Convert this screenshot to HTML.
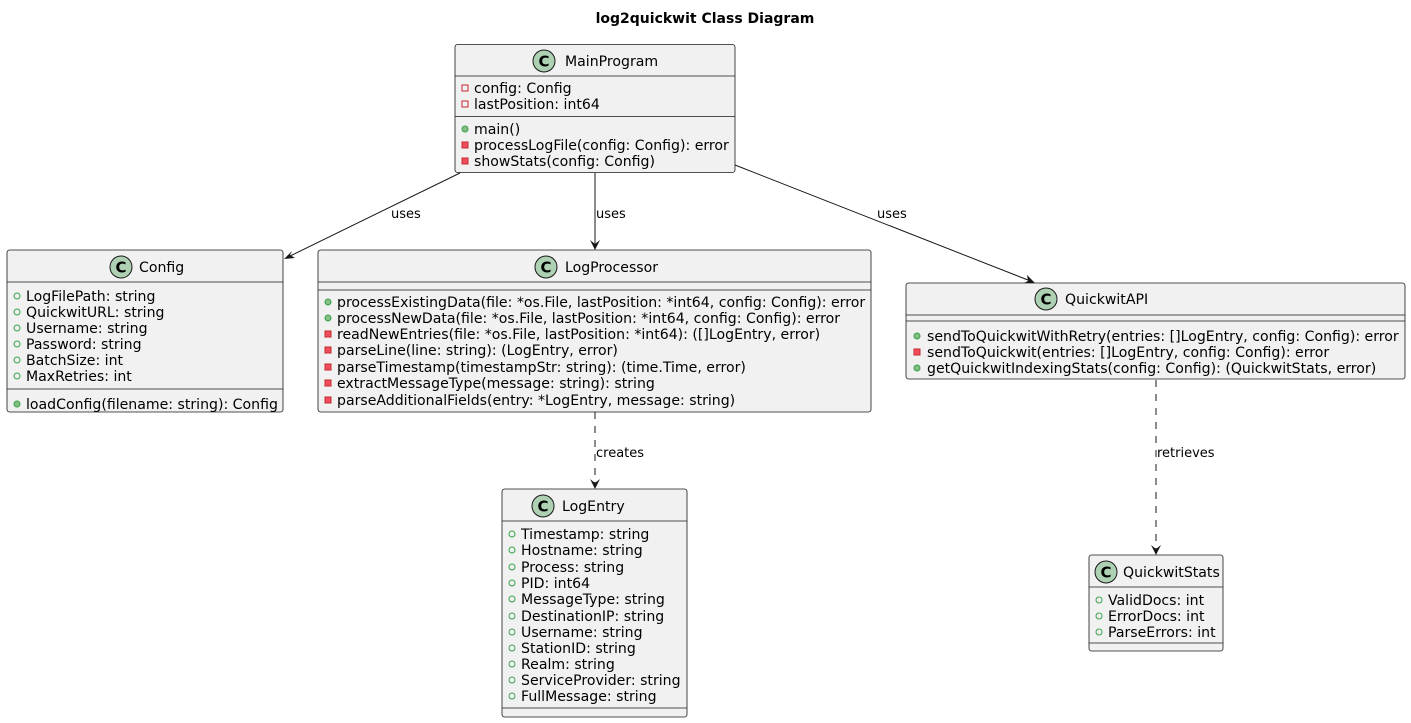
<!DOCTYPE html>
<html><head><meta charset="utf-8"><style>
html,body{margin:0;padding:0;background:#fff;}
svg{display:block;}
text{font-family:"DejaVu Sans","Liberation Sans",sans-serif;font-size:14.1px;fill:#000;}
.t{font-size:14px;font-weight:bold;}
.l{font-size:13px;}
.b{fill:#F1F1F1;stroke:#181818;stroke-width:0.8;}
.s{stroke:#181818;stroke-width:0.8;}
.pc{fill:none;stroke:#38A34A;stroke-width:1;}
.pf{fill:#84BE84;stroke:#38A34A;stroke-width:1;}
.qc{fill:none;stroke:#C82930;stroke-width:1;}
.qf{fill:#F24D5C;stroke:#C82930;stroke-width:1;}
.ic{fill:#ADD1B2;stroke:#181818;stroke-width:1;}
.ct{font-weight:bold;font-size:15px;}
.a{stroke:#181818;stroke-width:1;fill:none;}
.d{stroke:#181818;stroke-width:1;fill:none;stroke-dasharray:7,7;}
.h{fill:#181818;}
</style></head><body>
<svg width="1411" height="723" viewBox="0 0 1411 723" xmlns="http://www.w3.org/2000/svg">
<text class="t" x="705" y="23" text-anchor="middle">log2quickwit Class Diagram</text>

<rect class="b" x="455" y="44.5" width="280" height="128" rx="2.5"/>
<line class="s" x1="455" y1="76" x2="735" y2="76"/>
<line class="s" x1="455" y1="116.5" x2="735" y2="116.5"/>
<circle class="ic" cx="544" cy="61" r="11"/><text class="ct" x="544" y="66.5" text-anchor="middle">C</text>
<text x="565" y="66">MainProgram</text>
<rect class="qc" x="462" y="85" width="6" height="6"/><text x="474" y="93">config: Config</text>
<rect class="qc" x="462" y="101" width="6" height="6"/><text x="474" y="109">lastPosition: int64</text>
<circle class="pf" cx="465" cy="129" r="3"/><text x="474" y="134">main()</text>
<rect class="qf" x="462" y="142" width="6" height="6"/><text x="474" y="150">processLogFile(config: Config): error</text>
<rect class="qf" x="462" y="158" width="6" height="6"/><text x="474" y="166">showStats(config: Config)</text>

<rect class="b" x="7" y="250" width="276" height="162" rx="2.5"/>
<line class="s" x1="7" y1="282" x2="283" y2="282"/>
<line class="s" x1="7" y1="389" x2="283" y2="389"/>
<circle class="ic" cx="121" cy="267" r="11"/><text class="ct" x="121" y="272.5" text-anchor="middle">C</text>
<text x="139" y="272">Config</text>
<circle class="pc" cx="17" cy="296" r="3"/><text x="26" y="301">LogFilePath: string</text>
<circle class="pc" cx="17" cy="312" r="3"/><text x="26" y="317">QuickwitURL: string</text>
<circle class="pc" cx="17" cy="328" r="3"/><text x="26" y="333">Username: string</text>
<circle class="pc" cx="17" cy="344" r="3"/><text x="26" y="349">Password: string</text>
<circle class="pc" cx="17" cy="360" r="3"/><text x="26" y="365">BatchSize: int</text>
<circle class="pc" cx="17" cy="376" r="3"/><text x="26" y="381">MaxRetries: int</text>
<circle class="pf" cx="17" cy="404" r="3"/><text x="26" y="409">loadConfig(filename: string): Config</text>

<rect class="b" x="318" y="250" width="553" height="162" rx="2.5"/>
<line class="s" x1="318" y1="282" x2="871" y2="282"/>
<line class="s" x1="318" y1="290" x2="871" y2="290"/>
<circle class="ic" cx="546" cy="267" r="11"/><text class="ct" x="546" y="272.5" text-anchor="middle">C</text>
<text x="565" y="272">LogProcessor</text>
<circle class="pf" cx="328" cy="302" r="3"/><text x="337" y="307">processExistingData(file: *os.File, lastPosition: *int64, config: Config): error</text>
<circle class="pf" cx="328" cy="318" r="3"/><text x="337" y="323">processNewData(file: *os.File, lastPosition: *int64, config: Config): error</text>
<rect class="qf" x="325" y="331" width="6" height="6"/><text x="337" y="339">readNewEntries(file: *os.File, lastPosition: *int64): ([]LogEntry, error)</text>
<rect class="qf" x="325" y="347" width="6" height="6"/><text x="337" y="355">parseLine(line: string): (LogEntry, error)</text>
<rect class="qf" x="325" y="364" width="6" height="6"/><text x="337" y="372">parseTimestamp(timestampStr: string): (time.Time, error)</text>
<rect class="qf" x="325" y="380" width="6" height="6"/><text x="337" y="388">extractMessageType(message: string): string</text>
<rect class="qf" x="325" y="397" width="6" height="6"/><text x="337" y="405">parseAdditionalFields(entry: *LogEntry, message: string)</text>

<rect class="b" x="906" y="283" width="499" height="96" rx="2.5"/>
<line class="s" x1="906" y1="315" x2="1405" y2="315"/>
<line class="s" x1="906" y1="321" x2="1405" y2="321"/>
<circle class="ic" cx="1046" cy="299" r="11"/><text class="ct" x="1046" y="304.5" text-anchor="middle">C</text>
<text x="1065" y="304">QuickwitAPI</text>
<circle class="pf" cx="917" cy="336" r="3"/><text x="927" y="341">sendToQuickwitWithRetry(entries: []LogEntry, config: Config): error</text>
<rect class="qf" x="914" y="349" width="6" height="6"/><text x="927" y="357">sendToQuickwit(entries: []LogEntry, config: Config): error</text>
<circle class="pf" cx="917" cy="368" r="3"/><text x="927" y="373">getQuickwitIndexingStats(config: Config): (QuickwitStats, error)</text>

<rect class="b" x="502" y="489" width="185" height="228" rx="2.5"/>
<line class="s" x1="502" y1="521" x2="687" y2="521"/>
<line class="s" x1="502" y1="708" x2="687" y2="708"/>
<circle class="ic" cx="543" cy="506" r="11"/><text class="ct" x="543" y="511.5" text-anchor="middle">C</text>
<text x="562" y="511">LogEntry</text>
<circle class="pc" cx="512" cy="534" r="3"/><text x="521" y="539">Timestamp: string</text>
<circle class="pc" cx="512" cy="550" r="3"/><text x="521" y="555">Hostname: string</text>
<circle class="pc" cx="512" cy="567" r="3"/><text x="521" y="572">Process: string</text>
<circle class="pc" cx="512" cy="583" r="3"/><text x="521" y="588">PID: int64</text>
<circle class="pc" cx="512" cy="599" r="3"/><text x="521" y="604">MessageType: string</text>
<circle class="pc" cx="512" cy="616" r="3"/><text x="521" y="621">DestinationIP: string</text>
<circle class="pc" cx="512" cy="632" r="3"/><text x="521" y="637">Username: string</text>
<circle class="pc" cx="512" cy="648" r="3"/><text x="521" y="653">StationID: string</text>
<circle class="pc" cx="512" cy="664" r="3"/><text x="521" y="669">Realm: string</text>
<circle class="pc" cx="512" cy="680" r="3"/><text x="521" y="685">ServiceProvider: string</text>
<circle class="pc" cx="512" cy="696" r="3"/><text x="521" y="701">FullMessage: string</text>

<rect class="b" x="1089" y="555" width="134" height="96" rx="2.5"/>
<line class="s" x1="1089" y1="587" x2="1223" y2="587"/>
<line class="s" x1="1089" y1="643" x2="1223" y2="643"/>
<circle class="ic" cx="1106" cy="572" r="11"/><text class="ct" x="1106" y="577.5" text-anchor="middle">C</text>
<text x="1123" y="577">QuickwitStats</text>
<circle class="pc" cx="1099" cy="600" r="3"/><text x="1108" y="605">ValidDocs: int</text>
<circle class="pc" cx="1099" cy="616" r="3"/><text x="1108" y="621">ErrorDocs: int</text>
<circle class="pc" cx="1099" cy="632" r="3"/><text x="1108" y="637">ParseErrors: int</text>

<line class="a" x1="460" y1="173" x2="286" y2="258"/>
<polygon class="h" points="284,259 292,251 290,255 295,258"/>
<text class="l" x="391" y="218">uses</text>

<line class="a" x1="595" y1="173" x2="595" y2="248"/>
<polygon class="h" points="595,250 590,240 595,244 600,240"/>
<text class="l" x="596" y="218">uses</text>

<line class="a" x1="735" y1="165" x2="1033" y2="282"/>
<polygon class="h" points="1035,283 1024,283 1028,281 1027,275"/>
<text class="l" x="877" y="218">uses</text>

<line class="d" x1="595" y1="412" x2="595" y2="487"/>
<polygon class="h" points="595,489 590,479 595,483 600,479"/>
<text class="l" x="596" y="457">creates</text>

<line class="d" x1="1156" y1="380" x2="1156" y2="553"/>
<polygon class="h" points="1156,555 1151,545 1156,549 1161,545"/>
<text class="l" x="1157" y="457">retrieves</text>
</svg>
</body></html>
